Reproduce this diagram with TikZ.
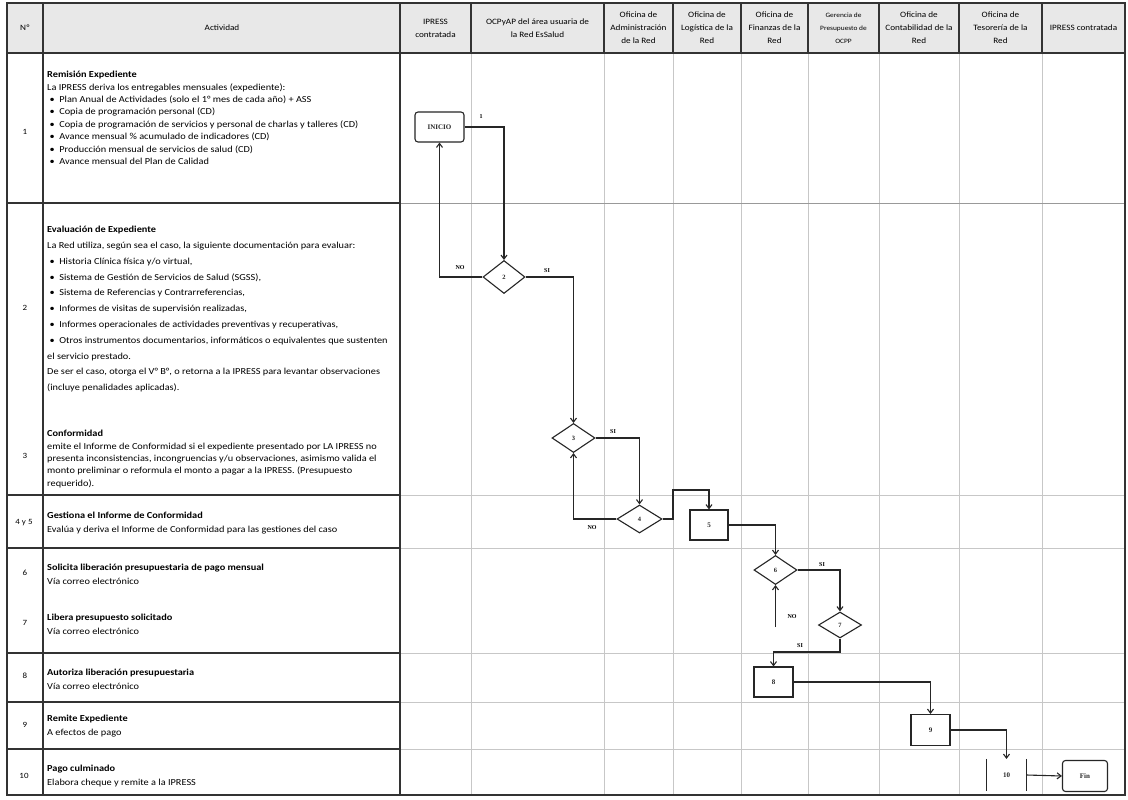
\documentclass[tikz,border=0pt]{standalone}
\usepackage{fontspec}
\setmainfont{Carlito}
\newfontfamily\actfont{Carlito}[FakeStretch=1.12]
\newfontfamily\tnr{Liberation Serif}
\usetikzlibrary{shapes.geometric,arrows.meta}
\newcommand\bul{\hspace*{2.5pt}\textbullet\hspace{4.5pt}}
\newcommand\fst{\rule{0pt}{7.5pt}}
\begin{document}
\begin{tikzpicture}[x=1pt,y=-1pt,
  dark/.style={line width=1.3pt, black!80},
  light/.style={line width=0.7pt, black!22},
  mid/.style={line width=0.9pt, black!40},
  flow/.style={line width=1.1pt, black!85},
  arr/.style={flow, -{Straight Barb[length=4pt,width=6pt]}},
  dia/.style={diamond, draw, flow, inner sep=0pt, font=\tnr\fontsize{6.5}{6.5}\selectfont\bfseries},
  box/.style={rectangle, draw, flow, inner sep=0pt, font=\tnr\fontsize{7}{7}\selectfont\bfseries},
  rbox/.style={box, rounded corners=3pt},
  lbl/.style={inner sep=0pt, font=\tnr\fontsize{6}{6}\selectfont\bfseries},
  num/.style={inner sep=0pt, font=\actfont\fontsize{8}{8}\selectfont},
  hd/.style={inner sep=0pt, align=center, font=\actfont\fontsize{8.2}{13}\selectfont},
  act/.style={anchor=north west, align=left, inner sep=0pt}
]
\useasboundingbox (0,0) rectangle (1128,800);
\fill[white] (0,0) rectangle (1128,800);
% header fill
\fill[black!9] (7,3) rectangle (1125,53);
% light grid in diagram area
\foreach \x in {471,604,673,741,808,879,959,1042} \draw[light] (\x,53) -- (\x,795);
\foreach \y in {495,548,653,702,749} \draw[light] (400,\y) -- (1125,\y);
\draw[mid] (400,203) -- (1125,203);
% dark grid
\foreach \x in {471,604,673,741,808,879,959,1042} \draw[dark] (\x,3) -- (\x,53);
\draw[dark] (7,3) rectangle (1125,795);
\draw[dark] (43,3) -- (43,795);
\draw[dark] (400,3) -- (400,795);
\draw[dark] (7,53) -- (1125,53);
\foreach \y in {203,495,548,653,702,749} \draw[dark] (7,\y) -- (400,\y);

% header text
\node[hd] (hN) at (25,28) {Nº};
\node[hd] (hA) at (222,28) {Actividad};
\node[hd] (h1) at (435.5,28) {IPRESS\\contratada};
\node[hd] (h2) at (537.5,28) {OCPyAP del área usuaria de\\la Red EsSalud};
\node[hd] (h3) at (638.5,28) {Oficina de\\Administración\\de la Red};
\node[hd] (h4) at (707,28) {Oficina de\\Logística de la\\Red};
\node[hd] (h5) at (774.5,28) {Oficina de\\Finanzas de la\\Red};
\node[hd, font=\actfont\fontsize{6.6}{13}\selectfont] (h6) at (843.5,28) {Gerencia de\\Presupuesto de\\OCPP};
\node[hd] (h7) at (919,28) {Oficina de\\Contabilidad de la\\Red};
\node[hd] (h8) at (1000.5,28) {Oficina de\\Tesorería de la\\Red};
\node[hd] (h9) at (1083.5,28) {IPRESS contratada};

% row numbers
\node[num] (n1) at (25,132) {1};
\node[num] (n2) at (25,308) {2};
\node[num] (n3) at (25,456) {3};
\node[num] (n45) at (24,523) {4 y 5};
\node[num] (n6) at (25,573) {6};
\node[num] (n7) at (25,623) {7};
\node[num] (n8) at (25,676) {8};
\node[num] (n9) at (25,725) {9};
\node[num] (n10) at (24,776) {10};

% activity texts
\node[act, font=\actfont\fontsize{9.2}{12.4}\selectfont] (t1) at (47,70) {\fst\textbf{Remisión Expediente}\\
La IPRESS deriva los entregables mensuales (expediente):\\
\bul Plan Anual de Actividades (solo el 1° mes de cada año) + ASS\\
\bul Copia de programación personal (CD)\\
\bul Copia de programación de servicios y personal de charlas y talleres (CD)\\
\bul Avance mensual \% acumulado de indicadores (CD)\\
\bul Producción mensual de servicios de salud (CD)\\
\bul Avance mensual del Plan de Calidad};
\node[act, font=\actfont\fontsize{9.2}{15.8}\selectfont] (t2) at (47,225) {\fst\textbf{Evaluación de Expediente}\\
La Red utiliza, según sea el caso, la siguiente documentación para evaluar:\\
\bul Historia Clínica física y/o virtual,\\
\bul Sistema de Gestión de Servicios de Salud (SGSS),\\
\bul Sistema de Referencias y Contrarreferencias,\\
\bul Informes de visitas de supervisión realizadas,\\
\bul Informes operacionales de actividades preventivas y recuperativas,\\
\bul Otros instrumentos documentarios, informáticos o equivalentes que sustenten\\
el servicio prestado.\\
De ser el caso, otorga el V° B°, o retorna a la IPRESS para levantar observaciones\\
(incluye penalidades aplicadas).};
\node[act, font=\actfont\fontsize{9.2}{12.4}\selectfont] (t3) at (47,429) {\fst\textbf{Conformidad}\\
emite el Informe de Conformidad si el expediente presentado por LA IPRESS no\\
presenta inconsistencias, incongruencias y/u observaciones, asimismo valida el\\
monto preliminar o reformula el monto a pagar a la IPRESS. (Presupuesto\\
requerido).};
\node[act, font=\actfont\fontsize{9.2}{14}\selectfont] (t45) at (47,511) {\fst\textbf{Gestiona el Informe de Conformidad}\\
Evalúa y deriva el Informe de Conformidad para las gestiones del caso};
\node[act, font=\actfont\fontsize{9.2}{14}\selectfont] (t6) at (47,563) {\fst\textbf{Solicita liberación presupuestaria de pago mensual}\\
Vía correo electrónico};
\node[act, font=\actfont\fontsize{9.2}{14}\selectfont] (t7) at (47,613) {\fst\textbf{Libera presupuesto solicitado}\\
Vía correo electrónico};
\node[act, font=\actfont\fontsize{9.2}{14}\selectfont] (t8) at (47,668) {\fst\textbf{Autoriza liberación presupuestaria}\\
Vía correo electrónico};
\node[act, font=\actfont\fontsize{9.2}{14}\selectfont] (t9) at (47,714) {\fst\textbf{Remite Expediente}\\
A efectos de pago};
\node[act, font=\actfont\fontsize{9.2}{14}\selectfont] (t10) at (47,764) {\fst\textbf{Pago culminado}\\
Elabora cheque y remite a la IPRESS};

% flow nodes
\node[rbox, minimum width=49pt, minimum height=30pt] (start) at (439.5,127) {INICIO};
\node[dia, minimum width=42pt, minimum height=33pt] (d2) at (504,277) {2};
\node[dia, minimum width=43pt, minimum height=29pt] (d3) at (573.5,438) {3};
\node[dia, minimum width=45pt, minimum height=28pt] (d4) at (639.5,519) {4};
\node[box, minimum width=38pt, minimum height=30pt] (b5) at (709,525) {5};
\node[dia, minimum width=43pt, minimum height=29pt] (d6) at (775.5,570) {6};
\node[dia, minimum width=43pt, minimum height=26pt] (d7) at (840,625) {7};
\node[box, minimum width=39pt, minimum height=30pt] (b8) at (773.5,682) {8};
\node[box, minimum width=39pt, minimum height=31pt] (b9) at (930.5,730) {9};
\node[box, draw=none, minimum width=39pt, minimum height=31pt] (b10) at (1006.5,775) {10};
\draw[flow] (b10.north west) -- (b10.south west);
\draw[flow] (b10.north east) -- (b10.south east);
\node[rbox, minimum width=45pt, minimum height=31pt] (fin) at (1085,776) {Fin};

% helper coordinates
\coordinate (c45) at (673,490);
\coordinate (c76) at (775.5,627);
\coordinate (c78) at (840,652);

% connectors
\draw[arr] (start.east) -| (d2.north);
\draw[arr] (d2.west) -| (start.south);
\draw[arr] (d2.east) -| (d3.north);
\draw[arr] (d3.east) -| (d4.north);
\draw[arr] (d4.west) -| (d3.south);
\draw[arr] (d4.east) -| (c45) -| (b5.north);
\draw[arr] (b5.east) -| (d6.north);
\draw[arr] (d6.east) -| (d7.north);
\draw[arr] (c76) -- (d6.south);
\draw[arr] (d7.south) -- (c78) -| (b8.north);
\draw[arr] (b8.east) -| (b9.north);
\draw[arr] (b9.east) -| (b10.north);
\draw[arr] (b10.east) -- (fin.west);

% connector labels
\node[lbl] (l1) at (481,117) {1};
\node[lbl] (l2) at (460,268) {NO};
\node[lbl] (l3) at (547,271) {SI};
\node[lbl] (l4) at (613,432) {SI};
\node[lbl] (l5) at (592,528) {NO};
\node[lbl] (l6) at (822,565) {SI};
\node[lbl] (l7) at (792,617) {NO};
\node[lbl] (l8) at (800,646) {SI};
\end{tikzpicture}
\end{document}
